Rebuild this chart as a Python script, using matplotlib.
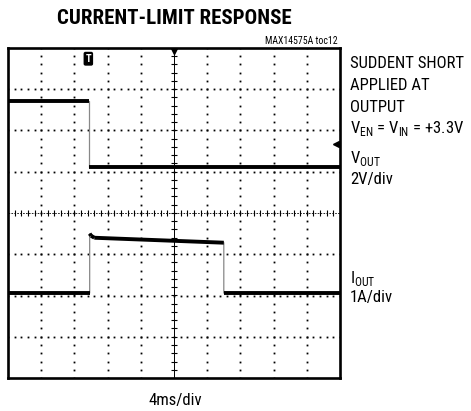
import logging
import numpy as np
import matplotlib
matplotlib.use('Agg')
import matplotlib.pyplot as plt

logging.getLogger('matplotlib.font_manager').setLevel(logging.ERROR)

# scope trace data, in screen divisions (x: 4ms/div, y: per-channel div)
vout_t = [0.0, 2.43, 2.43, 10.0]
vout_y = [2.71, 2.71, 1.11, 1.11]

iout_t = [0.0, 2.46, 2.46, 2.5, 2.6, 6.5, 6.5, 10.0]
iout_y = [-1.94, -1.94, -0.50, -0.55, -0.60, -0.72, -1.94, -1.94]

title = 'CURRENT-LIMIT RESPONSE'
part_tag = 'MAX14575A toc12'
side_notes = ['SUDDENT SHORT', 'APPLIED AT', 'OUTPUT']
x_scale = '4ms/div'

FONT = ['Roboto Condensed', 'Archivo Narrow', 'Barlow Condensed', 'Sofia Sans Condensed', 'DejaVu Sans']
plt.rcParams['font.family'] = FONT
plt.rcParams['mathtext.fontset'] = 'custom'
plt.rcParams['mathtext.rm'] = FONT[0]

fig = plt.figure(figsize=(4.71, 4.11), dpi=100)
ax = fig.add_axes([8 / 471, 1 - 378 / 411, 332 / 471, 330 / 411])
ax.set_xlim(0, 10)
ax.set_ylim(-4, 4)
ax.set_xticks([])
ax.set_yticks([])
for s in ax.spines.values():
    s.set_linewidth(1.9)

# dotted graticule
for gx in range(1, 10):
    if gx == 5:
        continue
    yy = np.arange(-4, 4.01, 0.2)
    ax.plot(np.full_like(yy, gx), yy, ls='none', marker='s', ms=1.3, color='black', mew=0)
for gy in range(-3, 4):
    if gy == 0:
        continue
    xx = np.arange(0, 10.01, 0.2)
    ax.plot(xx, np.full_like(xx, gy), ls='none', marker='s', ms=1.3, color='black', mew=0)

# center cross with minor ticks
ax.axhline(0, color='black', lw=0.6, ls=(0, (2, 1.5)))
ax.axvline(5, color='black', lw=0.7)
tk = np.arange(0, 10.01, 0.2)
ax.plot(tk, np.zeros_like(tk), ls='none', marker='|', ms=5, mew=0.8, color='black')
tk = np.arange(-4, 4.01, 0.2)
ax.plot(np.full_like(tk, 5), tk, ls='none', marker='_', ms=5, mew=0.8, color='black')

# traces: thin grey edges, heavy black levels
ax.plot(vout_t, vout_y, color='#888888', lw=0.9)
ax.plot(iout_t, iout_y, color='#888888', lw=0.9)
for t, y in ((vout_t, vout_y), (iout_t, iout_y)):
    for i in range(len(t) - 1):
        if t[i + 1] > t[i]:
            ax.plot(t[i:i + 2], y[i:i + 2], color='black', lw=2.8, solid_capstyle='butt')

# trigger and reference markers
ax.text(2.42, 3.74, 'T', color='white', fontsize=7.5, fontweight='bold', ha='center', va='center',
        bbox=dict(boxstyle='round,pad=0.12', fc='black', ec='black'))
ax.plot([9.88], [1.67], marker='<', ms=4.5, color='black')
ax.plot([5], [3.93], marker='v', ms=4, color='black')

fig.text(174 / 471, 1 - 18 / 411, title, ha='center', va='center', fontsize=15, fontweight='heavy')
fig.text(338 / 471, 1 - 41 / 411, part_tag, ha='right', va='center', fontsize=7)

for i, line in enumerate(side_notes):
    fig.text(350 / 471, 1 - (63 + 22 * i) / 411, line, ha='left', va='center', fontsize=12)
fig.text(350 / 471, 1 - 128 / 411, r'V$_{\mathregular{EN}}$ = V$_{\mathregular{IN}}$ = +3.3V',
         ha='left', va='center', fontsize=12)
fig.text(350 / 471, 1 - 158 / 411, r'V$_{\mathregular{OUT}}$', ha='left', va='center', fontsize=12)
fig.text(350 / 471, 1 - 179 / 411, '2V/div', ha='left', va='center', fontsize=12)
fig.text(350 / 471, 1 - 278 / 411, r'I$_{\mathregular{OUT}}$', ha='left', va='center', fontsize=12)
fig.text(350 / 471, 1 - 297 / 411, '1A/div', ha='left', va='center', fontsize=12)
fig.text(175 / 471, 1 - 400 / 411, x_scale, ha='center', va='center', fontsize=12)

fig.savefig('out.png', dpi=100)
